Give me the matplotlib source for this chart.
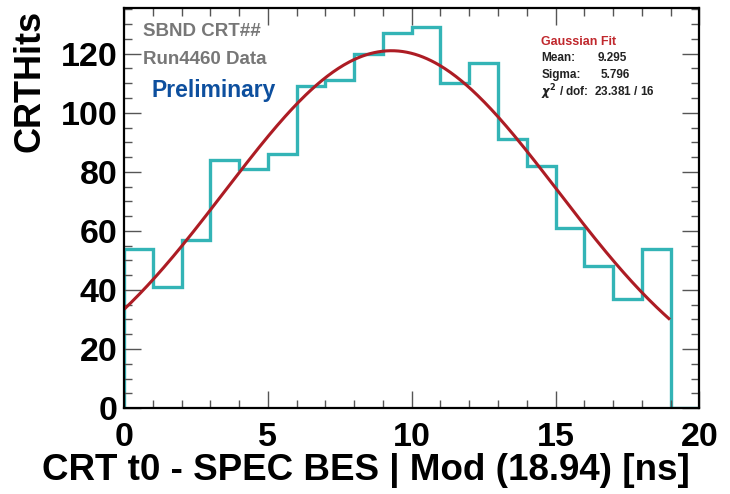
import numpy as np
import matplotlib
matplotlib.use("Agg")
import matplotlib.pyplot as plt
from matplotlib.ticker import MultipleLocator

# histogram contents, 1 ns bins from 0 to 20
bin_edges = np.arange(0, 21, 1)
counts = [54, 41, 57, 84, 81, 86, 109, 111, 120, 127,
          129, 110, 117, 91, 82, 61, 48, 37, 54, 0]

fit_mean = 9.295
fit_sigma = 5.796
fit_amp = 121.0
fit_range = (0.0, 18.94)
chi2_text = "23.381 / 16"

plt.rcParams['font.family'] = ['Liberation Sans', 'DejaVu Sans']
plt.rcParams['font.weight'] = 'bold'

fig = plt.figure(figsize=(7.3, 4.94), dpi=100)
ax = fig.add_axes([0.170, 0.174, 0.788, 0.810])

teal = '#33b4b6'
red = '#ad1c24'

ax.stairs(counts, bin_edges, baseline=0, color=teal, lw=2.4)

xf = np.linspace(fit_range[0], fit_range[1], 400)
yf = fit_amp * np.exp(-0.5 * ((xf - fit_mean) / fit_sigma) ** 2)
ax.plot(xf, yf, color=red, lw=2.2)

ax.set_xlim(0, 20)
ax.set_ylim(0, 135.5)

ax.xaxis.set_major_locator(MultipleLocator(5))
ax.xaxis.set_minor_locator(MultipleLocator(1))
ax.yaxis.set_major_locator(MultipleLocator(20))
ax.yaxis.set_minor_locator(MultipleLocator(5))
ax.tick_params(which='both', direction='in', top=True, right=True,
               labelsize=24.5, width=1.0, color='#555555')
ax.tick_params(which='major', length=12)
ax.tick_params(which='minor', length=6)
ax.tick_params(axis='y', pad=5)
ax.tick_params(axis='x', pad=10)
for lab in ax.get_xticklabels() + ax.get_yticklabels():
    lab.set_fontweight('bold')
for sp in ax.spines.values():
    sp.set_linewidth(1.6)

ax.set_xlabel("CRT t0 - SPEC BES | Mod (18.94) [ns]", fontsize=26.5,
              fontweight='bold', loc='right')
ax.xaxis.set_label_coords(0.984, -0.112)
ax.set_ylabel("CRTHits", fontsize=26, fontweight='bold', loc='top')
ax.yaxis.set_label_coords(-0.133, 0.995)

ax.text(0.66, 127.5, "SBND CRT##", fontsize=13.5, fontweight='bold',
        color='#777777', va='center')
ax.text(0.66, 118.0, "Run4460 Data", fontsize=13.5, fontweight='bold',
        color='#777777', va='center')
ax.text(0.97, 107.5, "Preliminary", fontsize=16.5, fontweight='bold',
        color='#0d4f9e', va='center')

ax.text(14.5, 124.0, "Gaussian Fit", fontsize=9, fontweight='bold',
        color='#c0282d', va='center')
ax.text(14.5, 118.5, "Mean:", fontsize=8.5, fontweight='bold', color='#222222', va='center')
ax.text(16.45, 118.5, "%.3f" % fit_mean, fontsize=8.5, fontweight='bold', color='#222222', va='center')
ax.text(14.5, 112.8, "Sigma:", fontsize=8.5, fontweight='bold', color='#222222', va='center')
ax.text(16.56, 112.8, "%.3f" % fit_sigma, fontsize=8.5, fontweight='bold', color='#222222', va='center')
ax.text(14.5, 107.0, r"$\chi^2$ / dof:  " + chi2_text, fontsize=8.5, fontweight='bold',
        color='#222222', va='center')

fig.savefig("out.png", dpi=100)
